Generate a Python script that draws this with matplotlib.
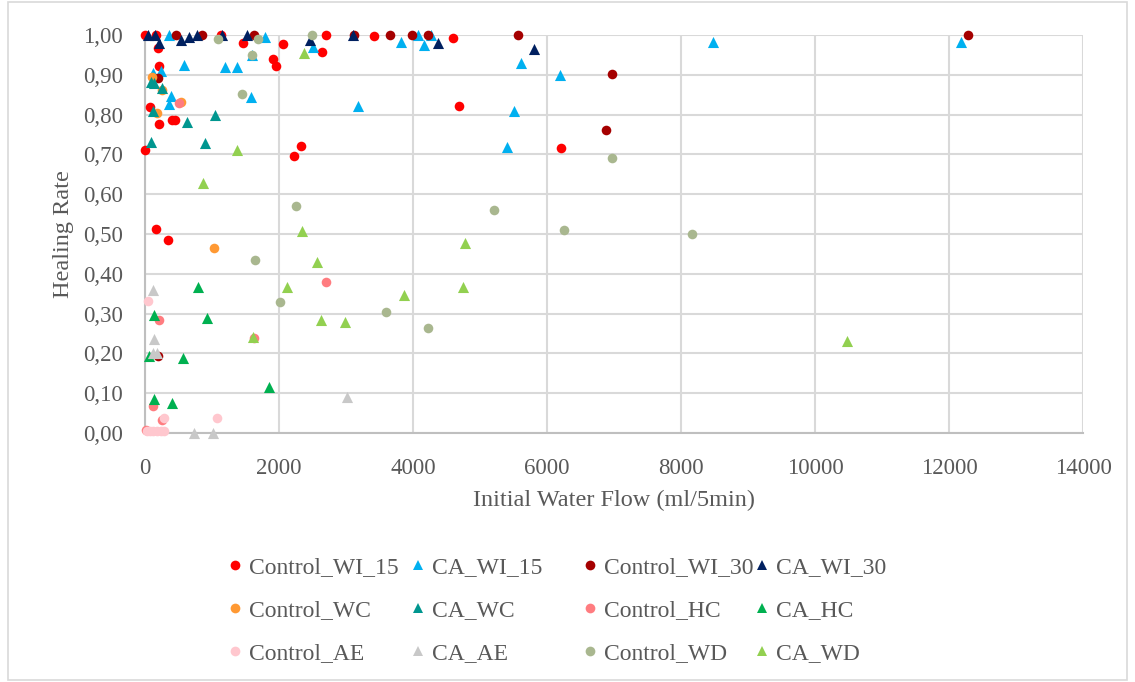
import matplotlib
matplotlib.use("Agg")
import matplotlib.pyplot as plt
from matplotlib.ticker import FuncFormatter, MultipleLocator
from matplotlib.lines import Line2D
from matplotlib.patches import Rectangle

plt.rcParams['font.family'] = ['Liberation Serif', 'DejaVu Serif']

# ---- data: initial water flow (ml/5min) vs healing rate ----
control_wi15_x = [0, 164, 194, 209, 75, 209, 403, 448, 0, 164, 343, 1135, 1463, 2060, 1911,
                  1956, 2225, 2329, 2702, 2643, 3419, 4600, 4690, 6211]
control_wi15_y = [1.00, 1.00, 0.967, 0.922, 0.819, 0.776, 0.787, 0.787, 0.711, 0.512, 0.485,
                  1.00, 0.98, 0.977, 0.94, 0.922, 0.696, 0.721, 1.00, 0.957, 0.997, 0.992,
                  0.821, 0.716]

ca_wi15_x = [358, 119, 239, 582, 1194, 1373, 1598, 1792, 388, 358, 1583, 2508, 3180, 3822,
             4076, 4166, 4270, 5614, 6196, 5509, 5405, 8480, 12183]
ca_wi15_y = [1.00, 0.904, 0.91, 0.925, 0.92, 0.92, 0.95, 0.995, 0.847, 0.827, 0.844, 0.97,
             0.822, 0.982, 1.00, 0.975, 1.00, 0.93, 0.90, 0.81, 0.719, 0.982, 0.982]

control_wi30_x = [463, 851, 1627, 3120, 3658, 3986, 4225, 5569, 12287, 194, 6973, 6883, 194]
control_wi30_y = [1.00, 1.00, 1.00, 1.00, 1.00, 1.00, 1.00, 1.00, 1.00, 0.892, 0.902, 0.761,
                  0.193]

ca_wi30_x = [45, 149, 209, 537, 657, 776, 1150, 1523, 2463, 3105, 4375, 5808]
ca_wi30_y = [1.00, 1.00, 0.98, 0.987, 0.995, 1.00, 1.00, 1.00, 0.987, 1.00, 0.98, 0.965]

control_wc_x = [104, 537, 179, 254, 1030]
control_wc_y = [0.894, 0.832, 0.804, 0.862, 0.465]

ca_wc_x = [90, 134, 254, 119, 1045, 627, 90, 896]
ca_wc_y = [0.882, 0.879, 0.867, 0.809, 0.80, 0.781, 0.731, 0.729]

control_hc_x = [508, 2702, 209, 1627, 119, 15, 254]
control_hc_y = [0.829, 0.379, 0.284, 0.239, 0.068, 0.008, 0.033]

ca_hc_x = [791, 134, 926, 60, 567, 1851, 134, 403]
ca_hc_y = [0.367, 0.296, 0.29, 0.193, 0.189, 0.115, 0.085, 0.075]

control_ae_x = [45, 284, 1075, 30, 75, 120, 180, 240, 290]
control_ae_y = [0.332, 0.038, 0.038, 0.005, 0.005, 0.005, 0.005, 0.005, 0.005]

ca_ae_x = [119, 134, 119, 179, 3016, 731, 1015]
ca_ae_y = [0.359, 0.236, 0.20, 0.20, 0.09, 0.0, 0.0]

control_wd_x = [1090, 1687, 1598, 2493, 1448, 2254, 1642, 2015, 3598, 4225, 5211, 6256,
                6973, 8167]
control_wd_y = [0.99, 0.99, 0.95, 1.00, 0.852, 0.57, 0.435, 0.33, 0.304, 0.264, 0.56, 0.51,
                0.69, 0.50]

ca_wd_x = [2374, 1373, 866, 2344, 2568, 2120, 2628, 2986, 1612, 3868, 4778, 4748, 10480]
ca_wd_y = [0.955, 0.711, 0.628, 0.507, 0.43, 0.367, 0.284, 0.279, 0.241, 0.347, 0.477,
           0.367, 0.231]

series_names = ["Control_WI_15", "CA_WI_15", "Control_WI_30", "CA_WI_30",
                "Control_WC", "CA_WC", "Control_HC", "CA_HC",
                "Control_AE", "CA_AE", "Control_WD", "CA_WD"]
series_x = [control_wi15_x, ca_wi15_x, control_wi30_x, ca_wi30_x, control_wc_x, ca_wc_x,
            control_hc_x, ca_hc_x, control_ae_x, ca_ae_x, control_wd_x, ca_wd_x]
series_y = [control_wi15_y, ca_wi15_y, control_wi30_y, ca_wi30_y, control_wc_y, ca_wc_y,
            control_hc_y, ca_hc_y, control_ae_y, ca_ae_y, control_wd_y, ca_wd_y]
colors = ["#FF0000", "#00B0F0", "#A50000", "#002060",
          "#FF9933", "#00968F", "#FF7C80", "#00B050",
          "#FFC7CE", "#C8C8C8", "#A9B78F", "#92D050"]
markers = ["o", "^"] * 6

TEXT = "#595959"
GRID = "#D9D9D9"

fig = plt.figure(figsize=(11.35, 6.82), dpi=100)
ax = fig.add_axes([145 / 1135, 1 - 433 / 682, (1083 - 145) / 1135, (433 - 35) / 682])

for name, xs, ys, c, m in zip(series_names, series_x, series_y, colors, markers):
    size = 48 if m == "o" else 64
    ax.scatter(xs, ys, s=size, c=c, marker=m, linewidths=0, label=name,
               clip_on=False, zorder=3)

ax.set_xlim(0, 14000)
ax.set_ylim(0, 1.0)
ax.xaxis.set_major_locator(MultipleLocator(2000))
ax.yaxis.set_major_locator(MultipleLocator(0.1))
ax.yaxis.set_major_formatter(FuncFormatter(lambda v, p: f"{v:.2f}".replace(".", ",")))
ax.xaxis.set_major_formatter(FuncFormatter(lambda v, p: f"{v:.0f}"))

ax.grid(True, color=GRID, linewidth=1.5, zorder=0)
ax.set_axisbelow(True)
for side in ("top", "right"):
    ax.spines[side].set_visible(False)
for side in ("left", "bottom"):
    ax.spines[side].set_color("#BFBFBF")
    ax.spines[side].set_linewidth(1.5)
ax.tick_params(length=0, labelsize=16.5, colors=TEXT)
ax.tick_params(axis="y", pad=16)
ax.tick_params(axis="x", pad=18)

ax.set_xlabel("Initial Water Flow (ml/5min)", fontsize=17.5, color=TEXT, labelpad=8)
ax.set_ylabel("Healing Rate", fontsize=17.5, color=TEXT, labelpad=6)

# Legend: four columns, three rows, one legend object per column
col_left = [228 / 1135, 411 / 1135, 583 / 1135, 755 / 1135]
for col in range(4):
    handles = []
    for row in range(3):
        i = row * 4 + col
        handles.append(Line2D([], [], linestyle="none", marker=markers[i],
                              markersize=7 if markers[i] == "o" else 7.5,
                              markerfacecolor=colors[i], markeredgewidth=0,
                              label=series_names[i]))
    fig.legend(handles=handles, loc="upper left",
               bbox_to_anchor=(col_left[col], 1 - 557 / 682),
               frameon=False, fontsize=17, labelcolor=TEXT,
               handlelength=0.6, handletextpad=0.3, labelspacing=0.9,
               borderpad=0, borderaxespad=0)

# chart frame
fig.patches.append(Rectangle((8 / 1135, 2 / 682), 1 - 16 / 1135, 1 - 4 / 682,
                             transform=fig.transFigure, fill=False,
                             edgecolor="#D9D9D9", linewidth=1.2))

fig.savefig("out.png", dpi=100, facecolor="white")
